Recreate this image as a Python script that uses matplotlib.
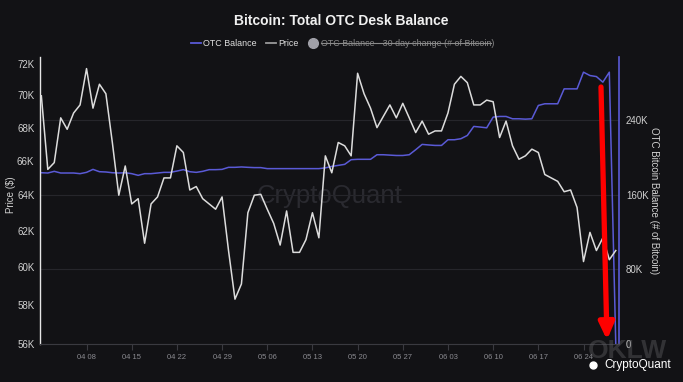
import matplotlib
matplotlib.use("Agg")
import matplotlib.pyplot as plt
import matplotlib.dates as mdates
from matplotlib.ticker import FixedLocator, FuncFormatter, NullLocator
from matplotlib.lines import Line2D
import pandas as pd
import numpy as np

plt.rcParams['font.family'] = ['Liberation Sans', 'DejaVu Sans']

start_date = '2024-04-01'
price = [69.97, 65.5, 65.9, 68.6, 67.9, 68.9, 69.4, 71.7, 69.2, 70.7,
         70.1, 67.1, 64.0, 65.7, 63.5, 63.8, 61.3, 63.5, 63.9, 65.0,
         65.0, 66.9, 66.5, 64.3, 64.5, 63.8, 63.5, 63.2, 63.9, 60.9,
         58.3, 59.1, 63.0, 64.0, 64.05, 63.2, 62.4, 61.2, 63.1, 60.8,
         60.8, 61.5, 63.0, 61.6, 66.3, 65.3, 67.1, 66.9, 66.3, 71.4,
         70.1, 69.2, 68.0, 68.7, 69.4, 68.6, 69.5, 68.6, 67.7, 68.4,
         67.6, 67.8, 67.8, 68.9, 70.7, 71.2, 70.8, 69.4, 69.4, 69.7,
         69.6, 67.4, 68.4, 66.9, 66.1, 66.3, 66.7, 66.5, 65.2, 65.0,
         64.8, 64.2, 64.3, 63.3, 60.3, 61.9, 60.9, 61.6, 60.4, 60.9]
otc_balance = [183.8, 183.5, 185.3, 183.5, 183.5, 183.5, 182.8, 184.2, 187.4, 184.9,
               184.6, 183.8, 183.5, 183.8, 182.8, 181.0, 182.8, 182.8, 183.5, 184.2,
               184.2, 185.6, 187.1, 184.9, 184.2, 185.3, 187.1, 187.1, 187.4, 189.6,
               189.6, 190.0, 189.6, 189.3, 189.3, 188.2, 188.2, 188.2, 188.2, 188.2,
               188.2, 188.2, 188.2, 188.2, 189.0, 190.6, 191.7, 192.8, 197.8, 198.2,
               198.2, 198.2, 203.1, 203.1, 202.7, 202.3, 202.3, 203.1, 208.5, 214.2,
               213.6, 213.1, 213.1, 219.2, 219.2, 220.3, 223.8, 233.5, 232.8, 232.0,
               243.5, 244.2, 244.2, 241.7, 241.7, 241.3, 241.7, 256.0, 257.8, 257.8,
               257.8, 273.8, 273.8, 273.8, 291.7, 288.1, 287.0, 281.0, 291.7, 0.0]
price_ticks = [56, 58, 60, 62, 64, 66, 68, 70, 72]
otc_ticks = [0, 80, 160, 240]

dates = pd.date_range(start_date, periods=len(price), freq='D')
price_usd = np.array(price) * 1000
otc_btc = np.array(otc_balance) * 1000

BG = '#121215'
BLUE = '#5a5ad6'
WHITE_LINE = '#dcdcdc'

fig = plt.figure(figsize=(6.83, 3.82), dpi=100, facecolor=BG)
ax = fig.add_axes([40/683, 1-344/382, (619-40)/683, (344-57)/382])
ax2 = ax.twinx()

# price on log scale (left)
ax.set_yscale('log')
ax.plot(dates, price_usd, color=WHITE_LINE, lw=1.1, zorder=3)
ax.set_ylim(56000, 72450)
ax.yaxis.set_major_locator(FixedLocator([t*1000 for t in price_ticks]))
ax.yaxis.set_minor_locator(NullLocator())
ax.yaxis.set_major_formatter(FuncFormatter(lambda v, p: f"{int(round(v/1000))}K"))

# otc on right
ax2.plot(dates, otc_btc, color=BLUE, lw=1.1, zorder=2)
ax2.set_ylim(0, 308000)
ax2.yaxis.set_major_locator(FixedLocator([t*1000 for t in otc_ticks]))
ax2.yaxis.set_major_formatter(FuncFormatter(lambda v, p: "0" if v == 0 else f"{int(round(v/1000))}K"))
ax2.grid(axis='y', color='#26262b', lw=0.8)
ax2.set_zorder(1)
ax.set_zorder(2)
ax.patch.set_visible(False)
ax2.patch.set_visible(False)

x0 = pd.Timestamp(start_date)
ax.set_xlim(x0 - pd.Timedelta(hours=5), x0 + pd.Timedelta(hours=89.5*24))
ax.xaxis.set_major_locator(FixedLocator(mdates.date2num(pd.date_range('2024-04-08', periods=12, freq='7D'))))
ax.xaxis.set_major_formatter(mdates.DateFormatter('%m %d'))

for a in (ax, ax2):
    for s in a.spines.values():
        s.set_visible(False)
ax.spines['left'].set_visible(True)
ax.spines['left'].set_color('#e6e6e6')
ax.spines['left'].set_linewidth(1.0)
ax.spines['bottom'].set_visible(True)
ax.spines['bottom'].set_color('#3a3a40')
ax.spines['bottom'].set_linewidth(0.8)
ax2.spines['right'].set_visible(True)
ax2.spines['right'].set_color(BLUE)
ax2.spines['right'].set_linewidth(1.2)

ax.tick_params(axis='y', colors='#d0d0d0', labelsize=7, length=0, pad=4)
ax2.tick_params(axis='y', colors='#d0d0d0', labelsize=7, length=0, pad=5)
ax.tick_params(axis='x', colors='#3a3a40', labelcolor='#8a8a90', labelsize=5.5, length=4, width=0.8, pad=3)

ax.set_ylabel('Price ($)', color='#d0d0d0', fontsize=7, va='center')
ax.yaxis.set_label_coords(-0.05, 0.52)
ax2.set_ylabel('OTC Bitcoin Balance (# of Bitcoin)', color='#d0d0d0', fontsize=7, rotation=270,
               va='center')
ax2.yaxis.set_label_coords(1.0605, 0.5)

# title
fig.text(341/683, 1-21/382, 'Bitcoin: Total OTC Desk Balance', ha='center', va='center',
         color='#f0f0f0', fontsize=10, fontweight='bold')

# legend (manual)
ly = 1 - 43/382
fig.add_artist(Line2D([191/683, 201/683], [ly, ly], color=BLUE, lw=1.3))
fig.text(203/683, ly, 'OTC Balance', ha='left', va='center', color='#e0e0e0', fontsize=6.4)
fig.add_artist(Line2D([266/683, 276/683], [ly, ly], color='#9a9a9a', lw=1.3))
fig.text(278/683, ly, 'Price', ha='left', va='center', color='#e0e0e0', fontsize=6.4)
fig.add_artist(Line2D([313/683], [ly], marker='o', color='#a0a0a8', markersize=7, lw=0))
fig.text(321/683, ly, 'OTC Balance - 30 day change (# of Bitcoin)', ha='left', va='center',
         color='#8a8a8a', fontsize=6.4)
fig.add_artist(Line2D([321/683, 491/683], [ly, ly], color='#8a8a8a', lw=0.8))

# watermark
fig.text(330/683, 1-196/382, 'CryptoQuant', ha='center', va='center', color='#2a2a30',
         fontsize=18.5, zorder=0)

# red arrow annotation
ax.annotate('', xy=(607, 42), xycoords='figure pixels', xytext=(601, 295),
            textcoords='figure pixels',
            arrowprops=dict(arrowstyle='-|>,head_width=0.45,head_length=1.0', color='#ff0000',
                            lw=3.8, mutation_scale=10, shrinkA=0, shrinkB=0))

# bottom-right logos
fig.text(627/683, 1-351/382, 'OKLW', ha='center', va='center', color='#5a5a5e', alpha=0.45,
         fontsize=19, fontweight='bold')
fig.text(638/683, 1-365/382, 'CryptoQuant', ha='center', va='center', color='#ffffff', fontsize=8.5)
fig.add_artist(Line2D([593/683], [1-365/382], marker='o', color='#ffffff', markersize=5, lw=0))

fig.savefig('out.png', dpi=100, facecolor=BG)
